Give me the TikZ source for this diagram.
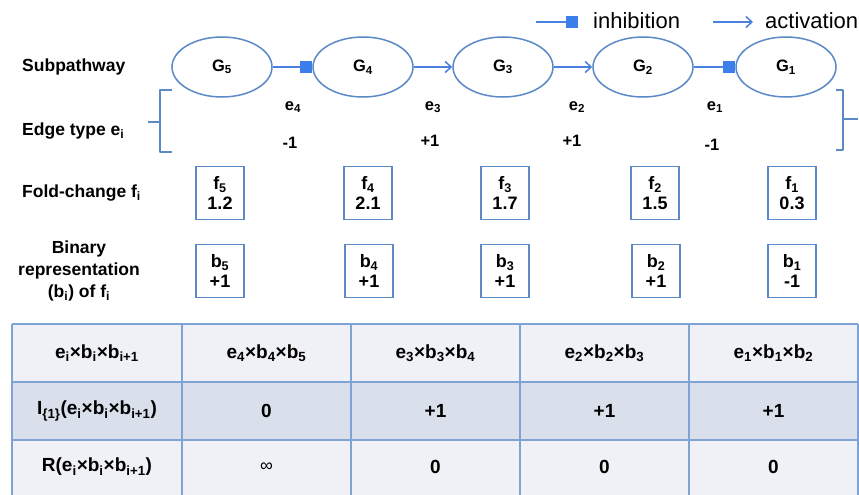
\documentclass[tikz,border=0pt]{standalone}
\usepackage{fontspec}
\setmainfont{Liberation Sans}
\usetikzlibrary{arrows.meta,shapes.geometric}
\definecolor{ellc}{HTML}{5B8AC7}
\definecolor{arrc}{HTML}{4A80E0}
\definecolor{inhc}{HTML}{3C7EEA}
\definecolor{gridc}{HTML}{7EA3D4}
\definecolor{rowa}{HTML}{EFF1F6}
\definecolor{rowb}{HTML}{D9DFEB}
\tikzset{
  gene/.style={ellipse, draw=ellc, line width=1.5pt, fill=white, minimum width=100pt, minimum height=60pt, inner sep=0pt, font=\fontsize{16.5}{18}\selectfont\bfseries},
  valbox/.style={rectangle, draw=ellc, line width=1.8pt, minimum width=48pt, minimum height=53pt, inner sep=0pt, align=center, font=\fontsize{18}{20}\selectfont\bfseries},
  rowlab/.style={anchor=west, inner sep=0pt, font=\fontsize{17.5}{22}\selectfont\bfseries},
  elab/.style={inner sep=0pt, font=\fontsize{16.5}{18}\selectfont\bfseries},
  cell/.style={inner sep=0pt, font=\fontsize{19}{21}\selectfont\bfseries},
  inhib/.style={draw=arrc, line width=1.5pt, -{Square[length=12pt,width=12pt,color=inhc]}},
  activ/.style={draw=arrc, line width=1.5pt, -{Straight Barb[length=6pt,width=11pt,line width=1.5pt]}},
  brace/.style={draw=ellc, line width=2pt, line join=round},
  legtext/.style={anchor=west, inner sep=0pt, font=\fontsize{22}{24}\selectfont}
}
\begin{document}
\begin{tikzpicture}[x=1pt,y=-1pt]
\useasboundingbox (0,0) rectangle (859,495);
\fill[white] (0,0) rectangle (859,495);
% legend
\coordinate (li1) at (536,22);
\coordinate (li2) at (578,22);
\draw[inhib] (li1) -- (li2);
\node[legtext] (linh) at (593,21) {inhibition};
\coordinate (la1) at (713,22);
\coordinate (la2) at (753,22);
\draw[activ] (la1) -- (la2);
\node[legtext] (lact) at (765,21) {activation};
% genes
\node[gene] (G5) at (222,67) {G\textsubscript{5}};
\node[gene] (G4) at (363,67) {G\textsubscript{4}};
\node[gene] (G3) at (503,67) {G\textsubscript{3}};
\node[gene] (G2) at (643,67) {G\textsubscript{2}};
\node[gene] (G1) at (786,67) {G\textsubscript{1}};
\draw[inhib] (G5) -- (G4);
\draw[activ] (G4) -- (G3);
\draw[activ] (G3) -- (G2);
\draw[inhib] (G2) -- (G1);
% row labels
\node[rowlab] (lsub) at (22,67) {Subpathway};
\node[rowlab] (ledge) at (22,131) {Edge type e\textsubscript{i}};
\node[rowlab] (lfold) at (22,193) {Fold-change f\textsubscript{i}};
\node[inner sep=0pt, align=center, font=\fontsize{17.5}{22}\selectfont\bfseries] (lbin) at (79,271) {Binary\\representation\\(b\textsubscript{i}) of f\textsubscript{i}};
% braces
\draw[brace] (172,90) -- (160,90) -- (160,152) -- (172,152);
\draw[brace] (160,122) -- (148,122);
\draw[brace] (836,90) -- (843,90) -- (843,150) -- (836,150);
\draw[brace] (843,119) -- (858,119);
% edge labels
\node[elab] (e4) at (293,107) {e\textsubscript{4}};
\node[elab] (v4) at (290,143) {-1};
\node[elab] (e3) at (433,107) {e\textsubscript{3}};
\node[elab] (v3) at (430,141) {+1};
\node[elab] (e2) at (577,107) {e\textsubscript{2}};
\node[elab] (v2) at (572,141) {+1};
\node[elab] (e1) at (715,107) {e\textsubscript{1}};
\node[elab] (v1) at (712,145) {-1};
% fold-change boxes
\node[valbox] (f5) at (220,193) {f\textsubscript{5}\\1.2};
\node[valbox] (f4) at (368,193) {f\textsubscript{4}\\2.1};
\node[valbox] (f3) at (505,193) {f\textsubscript{3}\\1.7};
\node[valbox] (f2) at (655,193) {f\textsubscript{2}\\1.5};
\node[valbox] (f1) at (792,193) {f\textsubscript{1}\\0.3};
% binary boxes
\node[valbox] (b5) at (220,271) {b\textsubscript{5}\\+1};
\node[valbox] (b4) at (369,271) {b\textsubscript{4}\\+1};
\node[valbox] (b3) at (505,271) {b\textsubscript{3}\\+1};
\node[valbox] (b2) at (656,271) {b\textsubscript{2}\\+1};
\node[valbox] (b1) at (792,271) {b\textsubscript{1}\\-1};
% table
\fill[rowa] (12,324) rectangle (858,382);
\fill[rowb] (12,382) rectangle (858,440);
\fill[rowa] (12,440) rectangle (858,495);
\draw[gridc, line width=1.2pt] (12,324) -- (858,324);
\draw[gridc, line width=1.2pt] (12,382) -- (858,382);
\draw[gridc, line width=1.2pt] (12,440) -- (858,440);
\foreach \xx in {12,182,351,520,689,858} {\draw[gridc, line width=1.2pt] (\xx,324) -- (\xx,495);}
\node[cell] (h0) at (97,353) {e\textsubscript{i}×b\textsubscript{i}×b\textsubscript{i+1}};
\node[cell] (h1) at (266.5,353) {e\textsubscript{4}×b\textsubscript{4}×b\textsubscript{5}};
\node[cell] (h2) at (435.5,353) {e\textsubscript{3}×b\textsubscript{3}×b\textsubscript{4}};
\node[cell] (h3) at (604.5,353) {e\textsubscript{2}×b\textsubscript{2}×b\textsubscript{3}};
\node[cell] (h4) at (773.5,353) {e\textsubscript{1}×b\textsubscript{1}×b\textsubscript{2}};
\node[cell] (i0) at (97,411) {I\textsubscript{\{1\}}(e\textsubscript{i}×b\textsubscript{i}×b\textsubscript{i+1})};
\node[cell] (i1) at (266.5,411) {0};
\node[cell] (i2) at (435.5,411) {+1};
\node[cell] (i3) at (604.5,411) {+1};
\node[cell] (i4) at (773.5,411) {+1};
\node[cell] (r0) at (97,467) {R(e\textsubscript{i}×b\textsubscript{i}×b\textsubscript{i+1})};
\node[cell, font=\fontsize{18}{20}\selectfont] (r1) at (266.5,467) {∞};
\node[cell] (r2) at (435.5,467) {0};
\node[cell] (r3) at (604.5,467) {0};
\node[cell] (r4) at (773.5,467) {0};
\end{tikzpicture}
\end{document}
